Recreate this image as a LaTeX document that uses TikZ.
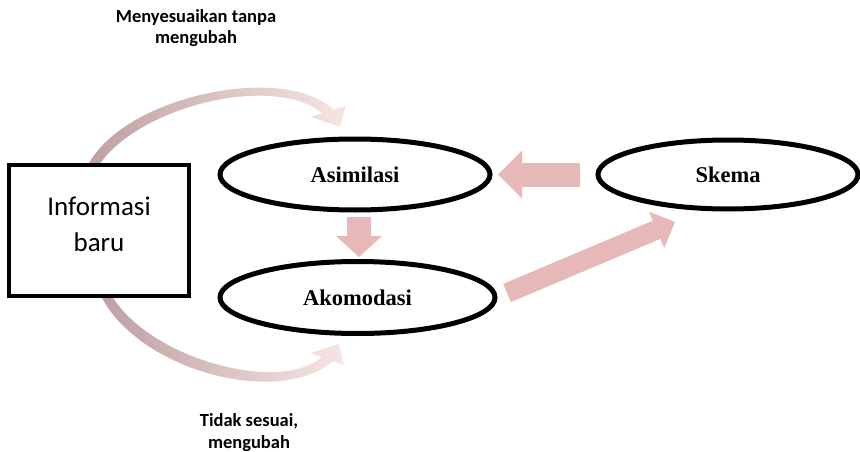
\documentclass[tikz,border=0pt]{standalone}
\usepackage{fontspec}
\setmainfont{Carlito}
\newfontfamily\ellfont{Liberation Serif}
\usetikzlibrary{shapes.geometric,arrows.meta,calc}
\definecolor{blockpink}{HTML}{E6B8B7}
\definecolor{curvdark}{RGB}{190,160,160}
\definecolor{curvlight}{RGB}{247,229,228}
\begin{document}
\begin{tikzpicture}[x=1pt,y=-1pt,
  ell/.style={ellipse, draw, line width=5pt, inner sep=0pt, font=\ellfont\bfseries\fontsize{22.5}{27}\selectfont},
  infobox/.style={rectangle, draw, fill=white, line width=4.5pt, minimum width=180pt, minimum height=131pt, inner sep=0pt},
  infotext/.style={align=center, font=\fontsize{27}{36}\selectfont},
  lbl/.style={align=center, font=\bfseries\fontsize{18.5}{21.5}\selectfont},
  blockarrow/.style={draw=blockpink, line width=#1},
  curvarrow/.style={left color=curvdark, middle color=curvlight!80!curvdark, right color=curvlight, draw=none}
]
\useasboundingbox (0,0) rectangle (860,452);

% curved arrows
\shade[curvarrow] (88,165) .. controls (125,95) and (285,63) .. (333,109.5) -- (346,106) -- (340,127) -- (311,117) -- (322,113) .. controls (275,74) and (140,105) .. (99,165) -- cycle;
\shade[curvarrow] (101,296) .. controls (140,372) and (280,407) .. (333,361) -- (344,365) -- (339,344) -- (311,353) -- (322,357) .. controls (280,394) and (150,359) .. (112,296) -- cycle;

% nodes
\node[infobox] (info) at (99,230.5) {};
\node[infotext] (infotxt) at (99,224.5) {Informasi\\baru};
\node[ell, minimum width=270pt, minimum height=71pt] (asim) at (355,174.5) {Asimilasi};
\node[ell, minimum width=275pt, minimum height=72pt] (akom) at (357.5,297.5) {Akomodasi};
\node[ell, minimum width=260pt, minimum height=69pt] (skema) at (728,174.5) {Skema};
\node[lbl] (toplbl) at (196,28) {Menyesuaikan tanpa\\mengubah};
\node[lbl] (botlbl) at (249,432.5) {Tidak sesuai,\\mengubah};

% block arrows
\draw[blockarrow=24pt, -{Triangle[length=24pt,width=48pt,line width=0pt]}] ([xshift=-15.5pt]skema.west) -- ([xshift=5.5pt]asim.east);
\draw[blockarrow=24pt, -{Triangle[length=21pt,width=46pt,line width=0pt]}] ($(asim.south)+(4,4)$) -- ($(akom.north)+(1.5,-2)$);
\draw[blockarrow=19.7pt, -{Triangle[length=20pt,width=39.6pt,line width=0pt]}] ($(akom.east)+(9.5,-4.5)$) -- ($(skema.center)+(-53,47.5)$);
\end{tikzpicture}
\end{document}
